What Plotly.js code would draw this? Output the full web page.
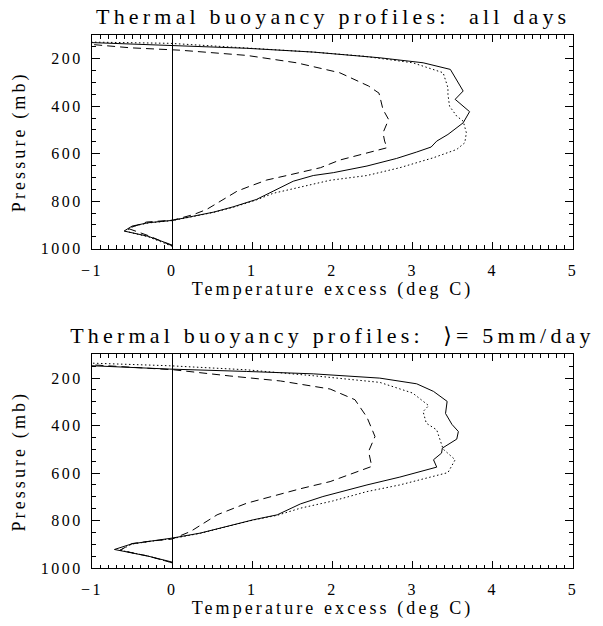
<!DOCTYPE html>
<html>
<head>
<meta charset="utf-8">
<script src="https://cdn.plot.ly/plotly-3.0.1.min.js"></script>
<style>
  html, body { margin: 0; padding: 0; background: #fff; }
  #chart { width: 603px; height: 626px; }
  #chart svg text { font-family: 'Liberation Serif', 'DejaVu Serif', serif !important; }
  .xtick text, .ytick text, .x2tick text, .y2tick text { letter-spacing: 2.5px; }
  .g-xtitle text, .g-ytitle text, .g-x2title text, .g-y2title text { letter-spacing: 3.1px; }
  .annotation-text { letter-spacing: 4.2px; }
</style>
</head>
<body>
<div id="chart"></div>
<script>
// ---------- Top panel: all days ----------
const allSolidX  = [0.0, -0.30, -0.60, -0.50, -0.30, 0.0, 0.27, 0.52, 0.76, 1.05, 1.26, 1.51, 1.76, 2.01, 2.43, 2.80, 3.05, 3.23, 3.30, 3.44, 3.63, 3.71, 3.53, 3.63, 3.47, 3.13, 2.59, 1.76, 0.93, -0.03, -1.0];
const allSolidP  = [985, 948, 926, 905, 891, 881, 863, 846, 824, 793, 758, 716, 692, 680, 652, 620, 593, 572, 547, 519, 470, 423, 371, 336, 245, 217, 196, 172, 156, 143, 132];

const allDashX   = [0.0, -0.30, -0.55, -0.32, 0.01, 0.27, 0.43, 0.64, 0.81, 0.97, 1.18, 1.43, 1.68, 1.85, 2.09, 2.34, 2.68, 2.65, 2.63, 2.70, 2.63, 2.58, 2.45, 2.09, 1.55, 0.93, 0.10, -0.52, -1.0];
const allDashP   = [988, 945, 915, 888, 880, 856, 835, 793, 758, 737, 711, 692, 673, 659, 627, 606, 575, 547, 512, 456, 414, 345, 315, 259, 217, 186, 164, 154, 140];

const allDotX    = [0.0, -0.30, -0.58, -0.48, -0.30, 0.0, 0.27, 0.52, 0.76, 1.05, 1.26, 1.55, 1.97, 2.43, 2.84, 3.26, 3.55, 3.65, 3.67, 3.63, 3.55, 3.46, 3.44, 3.44, 3.38, 3.00, 2.38, 1.76, 0.93, -0.03, -1.0];
const allDotP    = [990, 950, 927, 905, 892, 882, 864, 847, 826, 795, 767, 745, 712, 692, 659, 617, 582, 554, 512, 463, 442, 400, 350, 322, 259, 217, 189, 172, 154, 135, 130];

// ---------- Bottom panel: >= 5 mm/day ----------
const wetSolidX  = [0.0, -0.30, -0.60, -0.72, -0.50, -0.25, 0.0, 0.35, 0.68, 1.01, 1.31, 1.60, 1.88, 2.43, 2.84, 3.30, 3.26, 3.36, 3.37, 3.55, 3.57, 3.49, 3.41, 3.43, 3.26, 3.05, 2.59, 1.76, 0.93, -0.03, -1.0];
const wetSolidP  = [975, 950, 930, 922, 898, 886, 874, 853, 825, 797, 776, 730, 699, 650, 617, 575, 544, 516, 495, 457, 425, 395, 349, 298, 256, 224, 200, 182, 172, 162, 148];

const wetDashX   = [0.0, -0.30, -0.65, -0.50, -0.25, 0.0, 0.23, 0.56, 0.93, 1.26, 1.60, 1.97, 2.09, 2.49, 2.45, 2.53, 2.43, 2.28, 1.97, 1.35, 0.72, 0.02, -0.52, -1.0];
const wetDashP   = [978, 950, 925, 897, 886, 878, 846, 776, 727, 696, 666, 636, 621, 572, 509, 446, 365, 291, 246, 212, 191, 165, 154, 144];

const wetDotX    = [0.0, -0.30, -0.65, -0.50, -0.25, 0.0, 0.35, 0.68, 1.01, 1.31, 1.60, 2.00, 2.43, 2.84, 3.44, 3.53, 3.38, 3.30, 3.17, 3.13, 3.20, 3.00, 2.59, 1.76, 0.93, -0.03, -1.0];
const wetDotP    = [978, 950, 925, 899, 887, 876, 854, 826, 798, 778, 748, 718, 678, 650, 598, 544, 499, 418, 390, 341, 316, 263, 218, 190, 165, 148, 137];

const titleTop    = "Thermal buoyancy profiles:\u00a0\u00a0all days";
const titleBottom = "Thermal buoyancy profiles:\u00a0\u00a0\u27e9= 5mm/day";
const xTitle = "Temperature excess (deg C)";
const yTitle = "Pressure (mb)";

const FONT = "Liberation Serif";

function line(x, y, xa, ya, dash) {
  return { x: x, y: y, xaxis: xa, yaxis: ya, type: 'scatter', mode: 'lines',
           line: { color: '#000', width: 1, dash: dash }, hoverinfo: 'skip', showlegend: false };
}

const data = [
  line(allSolidX, allSolidP, 'x', 'y', 'solid'),
  line(allDashX,  allDashP,  'x', 'y', '8px,5px'),
  line(allDotX,   allDotP,   'x', 'y', '1.5px,2.5px'),
  line(wetSolidX, wetSolidP, 'x2', 'y2', 'solid'),
  line(wetDashX,  wetDashP,  'x2', 'y2', '8px,5px'),
  line(wetDotX,   wetDotP,   'x2', 'y2', '1.5px,2.5px')
];

function xax(anchor) {
  return {
    anchor: anchor, domain: [0, 1], range: [-1, 5], dtick: 1, tick0: 0,
    showgrid: false, zeroline: true, zerolinecolor: '#000', zerolinewidth: 1,
    showline: true, linecolor: '#000', linewidth: 1, mirror: 'ticks',
    ticks: 'inside', ticklen: 7, tickwidth: 1, tickcolor: '#000',
    minor: { dtick: 0.1, ticks: 'inside', ticklen: 3.5, tickwidth: 1, tickcolor: '#000', showgrid: false },
    tickfont: { family: FONT, size: 16, color: '#000' },
    ticklabelstandoff: 7,
    title: { text: xTitle, font: { family: FONT, size: 18, color: '#000' }, standoff: 4 }
  };
}
function yax(anchor, domain) {
  return {
    anchor: anchor, domain: domain, range: [1000, 100], dtick: 200, tick0: 0,
    showgrid: false, zeroline: false,
    showline: true, linecolor: '#000', linewidth: 1, mirror: 'ticks',
    ticks: 'inside', ticklen: 8, tickwidth: 1, tickcolor: '#000',
    minor: { dtick: 50, ticks: 'inside', ticklen: 4, tickwidth: 1, tickcolor: '#000', showgrid: false },
    tickfont: { family: FONT, size: 16, color: '#000' },
    ticklabelstandoff: 5,
    title: { text: yTitle, font: { family: FONT, size: 18, color: '#000' }, standoff: 10 }
  };
}

const layout = {
  width: 603, height: 626,
  margin: { l: 92, r: 30, t: 35, b: 58 },
  paper_bgcolor: '#fff', plot_bgcolor: '#fff',
  font: { family: FONT, color: '#000' },
  xaxis: xax('y'),
  yaxis: yax('x', [0.5992, 1]),
  xaxis2: xax('y2'),
  yaxis2: yax('x2', [0, 0.4008]),
  annotations: [
    { text: titleTop, xref: 'x domain', yref: 'y domain', x: 0.5, y: 1, xanchor: 'center', yanchor: 'middle',
      yshift: 19, showarrow: false, font: { family: FONT, size: 22, color: '#000' } },
    { text: titleBottom, xref: 'x2 domain', yref: 'y2 domain', x: 0.5, y: 1, xanchor: 'center', yanchor: 'middle',
      yshift: 19, showarrow: false, font: { family: FONT, size: 22, color: '#000' } }
  ],
  showlegend: false
};

Plotly.newPlot('chart', data, layout, { staticPlot: true, displayModeBar: false });
</script>
</body>
</html>
